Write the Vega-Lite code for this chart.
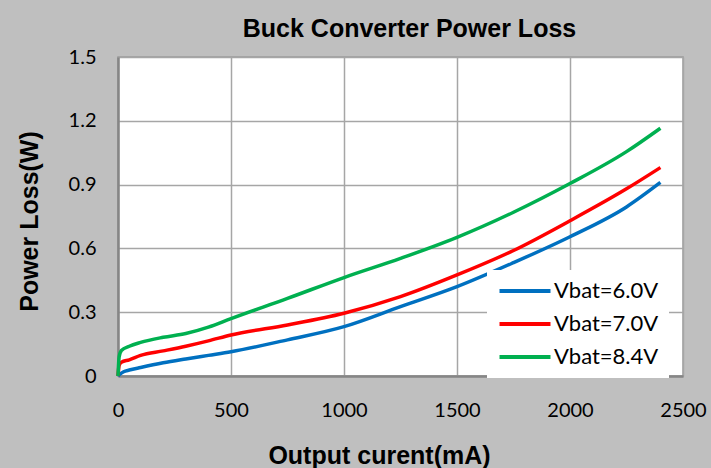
{
  "$schema": "https://vega.github.io/schema/vega-lite/v6.json",
  "autosize": "none",
  "width": 565,
  "height": 319,
  "padding": {"left": 118, "top": 57, "right": 28, "bottom": 92},
  "background": "#bfbfbf",
  "title": {
    "text": "Buck Converter Power Loss",
    "font": "Liberation Sans",
    "fontSize": 25,
    "fontWeight": "bold",
    "color": "#000000",
    "anchor": "middle",
    "frame": "group",
    "dx": 9,
    "offset": 5
  },
  "config": {
    "view": {"fill": "#ffffff", "stroke": "#9a9a9a", "strokeWidth": 1.5},
    "axis": {
      "labelFont": "Lato",
      "labelFontSize": 20,
      "labelColor": "#000000",
      "titleFont": "Liberation Sans",
      "titleFontSize": 25,
      "titleFontWeight": "bold",
      "titleColor": "#000000",
      "gridColor": "#a6a6a6",
      "gridWidth": 1.5,
      "domainColor": "#868686",
      "domainWidth": 2.5,
      "ticks": false
    }
  },
  "data": {
    "values": [
      {"I": 0, "P": 0, "s": "Vbat=6.0V"},
      {"I": 10, "P": 0.01, "s": "Vbat=6.0V"},
      {"I": 25, "P": 0.02, "s": "Vbat=6.0V"},
      {"I": 50, "P": 0.028, "s": "Vbat=6.0V"},
      {"I": 100, "P": 0.04, "s": "Vbat=6.0V"},
      {"I": 200, "P": 0.062, "s": "Vbat=6.0V"},
      {"I": 300, "P": 0.08, "s": "Vbat=6.0V"},
      {"I": 400, "P": 0.097, "s": "Vbat=6.0V"},
      {"I": 500, "P": 0.114, "s": "Vbat=6.0V"},
      {"I": 750, "P": 0.17, "s": "Vbat=6.0V"},
      {"I": 1000, "P": 0.232, "s": "Vbat=6.0V"},
      {"I": 1250, "P": 0.326, "s": "Vbat=6.0V"},
      {"I": 1500, "P": 0.42, "s": "Vbat=6.0V"},
      {"I": 1750, "P": 0.533, "s": "Vbat=6.0V"},
      {"I": 2000, "P": 0.655, "s": "Vbat=6.0V"},
      {"I": 2250, "P": 0.795, "s": "Vbat=6.0V"},
      {"I": 2400, "P": 0.91, "s": "Vbat=6.0V"},
      {"I": 0, "P": 0, "s": "Vbat=7.0V"},
      {"I": 5, "P": 0.05, "s": "Vbat=7.0V"},
      {"I": 15, "P": 0.065, "s": "Vbat=7.0V"},
      {"I": 50, "P": 0.076, "s": "Vbat=7.0V"},
      {"I": 100, "P": 0.097, "s": "Vbat=7.0V"},
      {"I": 200, "P": 0.118, "s": "Vbat=7.0V"},
      {"I": 300, "P": 0.14, "s": "Vbat=7.0V"},
      {"I": 400, "P": 0.165, "s": "Vbat=7.0V"},
      {"I": 500, "P": 0.193, "s": "Vbat=7.0V"},
      {"I": 750, "P": 0.24, "s": "Vbat=7.0V"},
      {"I": 1000, "P": 0.295, "s": "Vbat=7.0V"},
      {"I": 1250, "P": 0.373, "s": "Vbat=7.0V"},
      {"I": 1500, "P": 0.475, "s": "Vbat=7.0V"},
      {"I": 1750, "P": 0.59, "s": "Vbat=7.0V"},
      {"I": 2000, "P": 0.73, "s": "Vbat=7.0V"},
      {"I": 2250, "P": 0.88, "s": "Vbat=7.0V"},
      {"I": 2400, "P": 0.98, "s": "Vbat=7.0V"},
      {"I": 0, "P": 0, "s": "Vbat=8.4V"},
      {"I": 5, "P": 0.09, "s": "Vbat=8.4V"},
      {"I": 15, "P": 0.12, "s": "Vbat=8.4V"},
      {"I": 50, "P": 0.14, "s": "Vbat=8.4V"},
      {"I": 100, "P": 0.158, "s": "Vbat=8.4V"},
      {"I": 200, "P": 0.182, "s": "Vbat=8.4V"},
      {"I": 300, "P": 0.2, "s": "Vbat=8.4V"},
      {"I": 400, "P": 0.23, "s": "Vbat=8.4V"},
      {"I": 500, "P": 0.27, "s": "Vbat=8.4V"},
      {"I": 750, "P": 0.365, "s": "Vbat=8.4V"},
      {"I": 1000, "P": 0.463, "s": "Vbat=8.4V"},
      {"I": 1250, "P": 0.553, "s": "Vbat=8.4V"},
      {"I": 1500, "P": 0.652, "s": "Vbat=8.4V"},
      {"I": 1750, "P": 0.77, "s": "Vbat=8.4V"},
      {"I": 2000, "P": 0.905, "s": "Vbat=8.4V"},
      {"I": 2250, "P": 1.055, "s": "Vbat=8.4V"},
      {"I": 2400, "P": 1.165, "s": "Vbat=8.4V"}
    ]
  },
  "mark": {"type": "line", "strokeWidth": 3.5, "interpolate": "monotone"},
  "encoding": {
    "x": {
      "field": "I", "type": "quantitative",
      "scale": {"domain": [0, 2500], "nice": false},
      "axis": {"values": [0, 500, 1000, 1500, 2000, 2500], "format": "d", "title": "Output curent(mA)", "labelPadding": 24, "titleX": 261, "titleY": 67, "titleBaseline": "top", "labelFlush": false}
    },
    "y": {
      "field": "P", "type": "quantitative",
      "scale": {"domain": [0, 1.5], "nice": false},
      "axis": {"values": [0, 0.3, 0.6, 0.9, 1.2, 1.5], "title": "Power Loss(W)", "labelPadding": 22, "titleX": -76, "titleY": 164, "labelFlush": false, "format": "~g"}
    },
    "color": {
      "field": "s", "type": "nominal",
      "scale": {"domain": ["Vbat=6.0V", "Vbat=7.0V", "Vbat=8.4V"], "range": ["#0070c0", "#ff0000", "#00b050"]},
      "legend": {
        "title": null,
        "orient": "none",
        "legendX": 369,
        "legendY": 213,
        "fillColor": "#ffffff",
        "padding": 10,
        "symbolType": "M-1,0H5",
        "symbolSize": 289,
        "symbolStrokeWidth": 4,
        "symbolFillColor": "transparent",
        "rowPadding": 11,
        "labelFont": "Lato",
        "labelFontSize": 22,
        "labelColor": "#000000",
        "labelOffset": 35
      }
    }
  }
}
